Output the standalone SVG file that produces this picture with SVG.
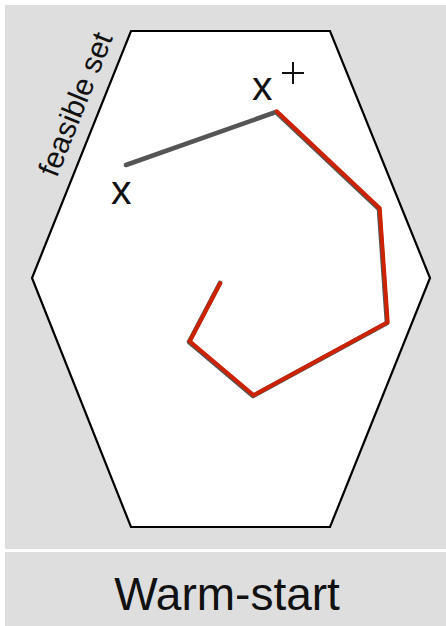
<svg xmlns="http://www.w3.org/2000/svg" width="446" height="626" viewBox="0 0 446 626">
<style>
.panel{fill:#dedede}
.lbl{font-family:"Liberation Sans",Arial,sans-serif;fill:#111}
.gray{fill:none;stroke:#555;stroke-width:4.6;stroke-linejoin:round;stroke-linecap:round}
.red{fill:none;stroke:#cc2200;stroke-width:4;stroke-linejoin:round;stroke-linecap:round}
</style>
<rect width="446" height="626" fill="#ffffff"/>
<rect class="panel" x="5" y="5" width="441" height="544"/>
<rect class="panel" x="5" y="552" width="441" height="74"/>
<g id="feasible-set">
<polygon points="131,31 330,31 430,278 330,527 131,527 32,278" fill="#ffffff" stroke="#000" stroke-width="2.2" stroke-linejoin="miter"/>
<text class="lbl" font-size="30" text-anchor="middle" transform="translate(85,108) rotate(-68.2)">feasible set</text>
</g>
<g id="x">
<text class="lbl" x="111" y="204" font-size="41">x</text>
</g>
<g id="xplus">
<text class="lbl" x="252" y="100" font-size="41">x</text>
<path d="M282,73 H304 M293,62 V84" stroke="#111" stroke-width="2" fill="none"/>
</g>
<g id="connectors">
<polyline class="gray" points="126,165 276,112 379,209 387,323 253,396 189,342 220,283"/>
<polyline class="red" points="276.7,111.3 379.7,208.3 387.7,322.3 253.7,395.3 189.7,341.3 220.2,283.2"/>
</g>
<g id="caption">
<text class="lbl" x="227" y="610" font-size="46" text-anchor="middle">Warm-start</text>
</g>
</svg>
